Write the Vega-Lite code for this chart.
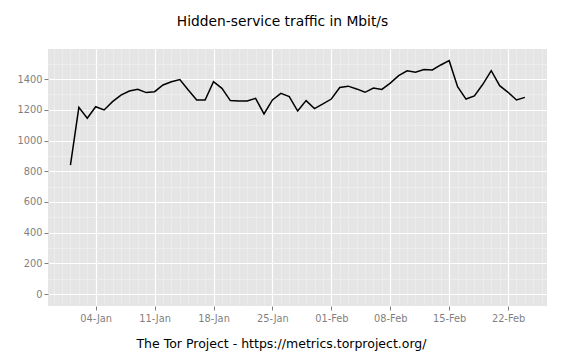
{
  "$schema": "https://vega.github.io/schema/vega-lite/v6.json",
  "width": 499,
  "height": 257,
  "autosize": "none",
  "padding": {"left": 48, "top": 49, "right": 21, "bottom": 51},
  "background": "white",
  "config": {
    "view": {"fill": "#E5E5E5", "stroke": null},
    "font": "DejaVu Sans"
  },
  "title": {
    "text": "Hidden-service traffic in Mbit/s",
    "font": "DejaVu Sans",
    "fontSize": 13.8,
    "fontWeight": "normal",
    "color": "black",
    "anchor": "middle",
    "frame": "group",
    "offset": 20,
    "dx": -15
  },
  "data": {
    "values": [
      {"date": "2015-01-01", "mbit": 840},
      {"date": "2015-01-02", "mbit": 1216},
      {"date": "2015-01-03", "mbit": 1145},
      {"date": "2015-01-04", "mbit": 1220},
      {"date": "2015-01-05", "mbit": 1199},
      {"date": "2015-01-06", "mbit": 1253},
      {"date": "2015-01-07", "mbit": 1296},
      {"date": "2015-01-08", "mbit": 1322},
      {"date": "2015-01-09", "mbit": 1333},
      {"date": "2015-01-10", "mbit": 1312},
      {"date": "2015-01-11", "mbit": 1318},
      {"date": "2015-01-12", "mbit": 1362},
      {"date": "2015-01-13", "mbit": 1383},
      {"date": "2015-01-14", "mbit": 1397},
      {"date": "2015-01-15", "mbit": 1329},
      {"date": "2015-01-16", "mbit": 1264},
      {"date": "2015-01-17", "mbit": 1264},
      {"date": "2015-01-18", "mbit": 1383},
      {"date": "2015-01-19", "mbit": 1340},
      {"date": "2015-01-20", "mbit": 1260},
      {"date": "2015-01-21", "mbit": 1258},
      {"date": "2015-01-22", "mbit": 1258},
      {"date": "2015-01-23", "mbit": 1275},
      {"date": "2015-01-24", "mbit": 1173},
      {"date": "2015-01-25", "mbit": 1264},
      {"date": "2015-01-26", "mbit": 1307},
      {"date": "2015-01-27", "mbit": 1286},
      {"date": "2015-01-28", "mbit": 1192},
      {"date": "2015-01-29", "mbit": 1260},
      {"date": "2015-01-30", "mbit": 1208},
      {"date": "2015-01-31", "mbit": 1238},
      {"date": "2015-02-01", "mbit": 1270},
      {"date": "2015-02-02", "mbit": 1345},
      {"date": "2015-02-03", "mbit": 1354},
      {"date": "2015-02-04", "mbit": 1336},
      {"date": "2015-02-05", "mbit": 1314},
      {"date": "2015-02-06", "mbit": 1342},
      {"date": "2015-02-07", "mbit": 1333},
      {"date": "2015-02-08", "mbit": 1374},
      {"date": "2015-02-09", "mbit": 1422},
      {"date": "2015-02-10", "mbit": 1454},
      {"date": "2015-02-11", "mbit": 1444},
      {"date": "2015-02-12", "mbit": 1462},
      {"date": "2015-02-13", "mbit": 1460},
      {"date": "2015-02-14", "mbit": 1492},
      {"date": "2015-02-15", "mbit": 1520},
      {"date": "2015-02-16", "mbit": 1351},
      {"date": "2015-02-17", "mbit": 1270},
      {"date": "2015-02-18", "mbit": 1290},
      {"date": "2015-02-19", "mbit": 1366},
      {"date": "2015-02-20", "mbit": 1455},
      {"date": "2015-02-21", "mbit": 1357},
      {"date": "2015-02-22", "mbit": 1314},
      {"date": "2015-02-23", "mbit": 1264},
      {"date": "2015-02-24", "mbit": 1281}
    ]
  },
  "resolve": {"axis": {"x": "independent", "y": "independent"}},
  "layer": [
    {
      "mark": {"type": "line", "strokeOpacity": 0},
      "encoding": {
        "x": {
          "field": "date",
          "type": "temporal",
          "scale": {
            "type": "utc",
            "domain": [
              {"year": 2014, "month": 12, "date": 29, "hours": 8, "utc": true},
              {"year": 2015, "month": 2, "date": 26, "hours": 15, "utc": true}
            ]
          },
          "axis": {
            "orient": "bottom",
            "title": null,
            "labels": false,
            "ticks": false,
            "domain": false,
            "grid": true,
            "gridColor": "#F0F0F0",
            "gridWidth": 0.6,
            "tickCount": {"interval": "day", "step": 1}
          }
        },
        "y": {
          "field": "mbit",
          "type": "quantitative",
          "scale": {"domain": [-78, 1596], "nice": false, "zero": false},
          "axis": {
            "orient": "left",
            "title": null,
            "labels": false,
            "ticks": false,
            "domain": false,
            "grid": true,
            "gridColor": "#F2F2F2",
            "gridWidth": 0.6,
            "values": [100, 300, 500, 700, 900, 1100, 1300, 1500]
          }
        }
      }
    },
    {
      "mark": {"type": "line", "color": "black", "strokeWidth": 1.5},
      "encoding": {
        "x": {
          "field": "date",
          "type": "temporal",
          "scale": {
            "type": "utc",
            "domain": [
              {"year": 2014, "month": 12, "date": 29, "hours": 8, "utc": true},
              {"year": 2015, "month": 2, "date": 26, "hours": 15, "utc": true}
            ]
          },
          "axis": {
            "orient": "bottom",
            "title": "The Tor Project - https://metrics.torproject.org/",
            "titleFont": "DejaVu Sans",
            "titleFontSize": 12.5,
            "titleFontWeight": "normal",
            "titleColor": "black",
            "titleX": 233,
            "titleY": 37,
            "titleAlign": "center",
            "titleBaseline": "middle",
            "format": "%d-%b",
            "values": [
              {"year": 2015, "month": 1, "date": 4, "utc": true},
              {"year": 2015, "month": 1, "date": 11, "utc": true},
              {"year": 2015, "month": 1, "date": 18, "utc": true},
              {"year": 2015, "month": 1, "date": 25, "utc": true},
              {"year": 2015, "month": 2, "date": 1, "utc": true},
              {"year": 2015, "month": 2, "date": 8, "utc": true},
              {"year": 2015, "month": 2, "date": 15, "utc": true},
              {"year": 2015, "month": 2, "date": 22, "utc": true}
            ],
            "domain": false,
            "grid": true,
            "gridColor": "white",
            "gridWidth": 1.2,
            "ticks": true,
            "tickSize": 4,
            "tickColor": "#7F7F7F",
            "tickWidth": 1,
            "labelFont": "DejaVu Sans",
            "labelFontSize": 9.8,
            "labelColor": "#7F7F7F",
            "labelPadding": 3
          }
        },
        "y": {
          "field": "mbit",
          "type": "quantitative",
          "scale": {"domain": [-78, 1596], "nice": false, "zero": false},
          "axis": {
            "orient": "left",
            "title": null,
            "format": "d",
            "values": [0, 200, 400, 600, 800, 1000, 1200, 1400],
            "domain": false,
            "grid": true,
            "gridColor": "white",
            "gridWidth": 1.2,
            "ticks": true,
            "tickSize": 4,
            "tickColor": "#7F7F7F",
            "tickWidth": 1,
            "labelFont": "DejaVu Sans",
            "labelFontSize": 9.8,
            "labelColor": "#7F7F7F",
            "labelPadding": 2
          }
        }
      }
    }
  ]
}
